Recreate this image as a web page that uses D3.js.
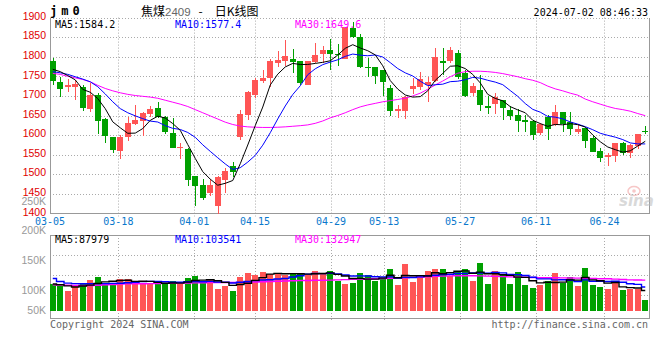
<!DOCTYPE html>
<html><head><meta charset="utf-8">
<script src="https://cdn.jsdelivr.net/npm/d3@7"></script>
<style>body{margin:0;background:#fff}svg{display:block}</style>
</head><body><svg id="c" width="660" height="360"></svg>
<script>
const dates = ["03-05","03-06","03-07","03-08","03-11","03-12","03-13","03-14","03-15","03-18","03-19","03-20","03-21","03-22","03-25","03-26","03-27","03-28","03-29",
"04-01","04-02","04-03","04-08","04-09","04-10","04-11","04-12","04-15","04-16","04-17","04-18","04-19","04-22","04-23","04-24","04-25","04-26","04-29","04-30",
"05-06","05-07","05-08","05-09","05-10","05-13","05-14","05-15","05-16","05-17","05-20","05-21","05-22","05-23","05-24","05-27","05-28","05-29","05-30","05-31",
"06-03","06-04","06-05","06-06","06-07","06-11","06-12","06-13","06-14","06-17","06-18","06-19","06-20","06-21","06-24","06-25","06-26","06-27","06-28",
"07-01","07-02"];
const opens = [1790,1736,1723,1724,1723,1666,1702,1641,1594,1560,1596,1629,1635,1653,1669,1646,1605,1568,1564,1495,1473,1452,1420,1485,1521,1596,1651,1702,1739,1745,1785,1788,1794,1788,1729,1786,1808,1817,1808,1794,1873,1850,1775,1775,1766,1719,1662,1662,1718,1724,1728,1739,1790,1788,1810,1758,1707,1715,1674,1679,1690,1664,1651,1638,1636,1606,1645,1626,1660,1634,1609,1617,1593,1560,1543,1546,1581,1553,1572,1611];
const highs = [1796,1749,1742,1741,1728,1732,1708,1644,1596,1600,1647,1676,1660,1674,1684,1650,1644,1581,1566,1495,1487,1487,1495,1515,1532,1664,1713,1747,1766,1794,1815,1842,1821,1790,1790,1834,1827,1845,1832,1877,1890,1858,1796,1775,1766,1728,1677,1700,1745,1762,1749,1822,1823,1826,1816,1766,1734,1753,1700,1707,1690,1674,1666,1651,1638,1630,1651,1677,1660,1660,1626,1618,1600,1566,1553,1581,1583,1576,1603,1623];
const lows = [1728,1698,1711,1690,1662,1660,1603,1581,1555,1540,1586,1625,1598,1647,1643,1604,1567,1539,1471,1420,1434,1445,1398,1451,1492,1587,1638,1694,1732,1724,1773,1776,1759,1728,1728,1783,1783,1765,1776,1794,1847,1771,1748,1730,1700,1649,1644,1640,1705,1715,1685,1736,1754,1783,1742,1698,1700,1661,1654,1654,1638,1638,1609,1609,1587,1600,1587,1623,1609,1600,1603,1566,1557,1532,1521,1532,1549,1541,1564,1603];
const closes = [1738,1718,1727,1730,1670,1702,1637,1598,1562,1594,1632,1639,1656,1667,1647,1609,1568,1570,1485,1470,1440,1472,1493,1509,1506,1654,1711,1741,1746,1788,1792,1803,1786,1732,1789,1805,1817,1806,1805,1875,1851,1775,1771,1752,1736,1662,1666,1696,1725,1742,1736,1800,1785,1816,1748,1700,1725,1677,1670,1696,1670,1650,1636,1633,1600,1628,1615,1660,1628,1615,1615,1585,1558,1542,1548,1581,1553,1575,1603,1608];
const ma5 = [1768,1762,1752,1741,1716.6,1709.4,1693.2,1667.4,1633.8,1618.6,1604.6,1605,1616.6,1637.6,1648.2,1643.6,1629.4,1612.2,1575.8,1540.4,1506.6,1487.4,1472,1476.8,1484,1526.8,1574.6,1624.2,1671.6,1728,1755.6,1774,1783,1780.2,1780.4,1783,1785.8,1789.8,1804.4,1821.6,1830.8,1822.4,1815.4,1804.8,1777,1739.2,1717.4,1702.4,1697,1698.2,1713,1739.8,1757.6,1775.8,1777,1769.8,1754.8,1733.2,1704,1693.6,1687.6,1672.6,1664.4,1657,1637.8,1629.4,1622.4,1627.2,1626.2,1629.2,1626.6,1620.6,1600.2,1583,1569.6,1562.8,1556.4,1559.8,1572,1584.2];
const ma10 = [1762,1759,1755,1749,1743,1736,1723.5,1705,1685,1667.6,1657,1649.1,1642,1635.7,1633.4,1624.1,1617.2,1614.4,1606.7,1594.3,1575.1,1558.4,1542.1,1526.3,1512.2,1516.7,1531,1548.1,1574.2,1606,1641.2,1674.3,1703.6,1725.9,1754.2,1769.3,1779.9,1786.4,1792.3,1801,1806.9,1804.1,1802.6,1804.6,1799.3,1785,1769.9,1758.9,1750.9,1737.6,1726.1,1728.6,1730,1736.4,1737.6,1741.4,1747.3,1745.4,1739.9,1735.3,1728.7,1713.7,1698.8,1680.5,1665.7,1658.5,1647.5,1645.8,1641.6,1633.5,1628,1621.5,1613.7,1604.6,1599.4,1594.7,1588.5,1580,1577.5,1577.4];
const ma30 = [1757.6,1755,1750,1746,1742,1736,1727,1719,1713,1708,1704,1701,1699,1697,1694,1689,1684,1679,1673,1665,1657,1649,1641,1633,1627,1623,1621,1620,1619.5,1619.5,1620,1621,1622.5,1624,1626,1630,1636,1644,1650,1657,1665,1672,1677,1681,1685,1688,1691,1694,1700,1707,1717,1728,1738,1749,1758,1762,1763,1763,1762,1760,1757,1753,1749,1744,1740,1734,1725,1718,1713,1707,1702,1692,1685,1679,1673,1668,1665,1661,1655,1649.6];
// volumes in thousands
const volumes = [114.4,108.7,85.8,108.7,120.1,133,145.9,118.7,121.6,137.3,137.3,121.6,121.6,118.7,117.3,117.3,128.7,117.3,141.6,150.2,125.8,137.3,94.4,107.3,85.8,145.9,163,155.9,167.3,160.2,163,155.9,158.7,163,153,171.6,161.6,171.6,130.1,117.3,120.1,163,154.4,130.1,140.1,180.2,111.5,201.6,124.4,144.4,171.6,180.2,180.2,150.2,171.6,180.2,128.7,205.9,115.8,171.6,157.3,115.8,167.3,111.5,98.7,111.5,128.7,163,120.1,145.9,107.3,184.5,111.5,103,94.4,120.1,90.1,94.4,94.4,47.2];
const volMa5 = [116,113,108,103,107.5,111.3,118.7,125.3,127.9,131.3,132.2,127.3,127.9,127.3,123.3,119.3,120.7,119.9,124.4,131,132.7,134.4,129.9,123,110.1,114.1,119.3,131.6,143.6,158.5,161.9,160.5,161,160.2,158.7,160.4,161.6,164.2,157.6,150.4,140.1,140.4,137,137,141.5,153.6,143.3,152.7,151.6,152.4,150.7,164.4,160.2,165.3,170.8,172.5,162.2,167.3,160.4,160.4,155.9,153.3,145.6,144.7,130.1,121,123.5,122.7,124.4,133.8,133,144.2,133.9,130.4,120.1,122.7,103.8,100.4,98.7,88];
const volMa10 = [140,127,120,118,117,117,118,118,119,119.4,121.7,123,126.6,127.6,127.3,125.7,124,123.9,125.9,127.2,126,127.6,124.9,123.7,120.6,123.4,126.9,130.7,133.3,134.3,138,139.9,146.3,151.9,158.6,161.2,161,162.6,158.9,154.6,150.3,151,150.6,147.3,146,146.9,141.8,144.8,144.3,147,152.1,153.9,156.4,158.4,161.6,161.6,163.3,163.7,162.9,165.6,164.2,157.7,156.4,152.6,145.3,138.4,138.4,134.1,134.6,132,127,133.9,128.3,127.4,127,127.9,124,117.1,114.6,103.5];
const volMa30 = [113,112,111,110,109.5,110,111,113,114,115.5,116.5,117,117.5,118,118.5,119,119.5,120,120.5,121,121.5,122,122,122.5,122.5,123,124,125,126,127,128,129,130,131,131.5,132,132.5,133,134,135,136,137,138,139,140,141,142,143,144.5,146,147.5,149,150,151,151.5,151.5,151.5,151,150,149,148,147,146,145,144,143,143,143,142.5,142,141.5,141,140,139,138.5,137,135.5,134,133.5,132.9];
const priceTicks = [1400,1450,1500,1550,1600,1650,1700,1750,1800,1850,1900];
const volTicks = [50,100,150,200,250];
const dateTicks = ["03-05","03-18","04-01","04-15","04-29","05-13","05-27","06-11","06-24"];

const svg = d3.select("#c");
const MONO = "'DejaVu Sans Mono', monospace";
const SANS = "'Liberation Sans', Arial, sans-serif";
const CJK = "'Noto Sans CJK SC', sans-serif";
const RED = "#ff5555", GREEN = "#00a000";

const x = d3.scaleBand().domain(dates).range([49, 649]).paddingInner(0.25).paddingOuter(0.125);
const xt = d3.scalePoint().domain(dates).range([50, 650]);
const y = d3.scaleLinear().domain([1400, 1900]).range([213.4, 17.6]);
const yv = d3.scaleLinear().domain([0, 327]).range([311, 235]);
const yvLabel = d3.scaleLinear().domain([50, 100, 250]).range([313, 293, 204]);
const bw = x.bandwidth();
const cx = d => x(d) + bw / 2;
const L = 50, R = 650, mainTop = y(1900), mainBot = y(1400), vTop = 235, vBot = 318;

// grid
const g = svg.append("g").attr("stroke", "#aaa").attr("stroke-dasharray", "1,2");
priceTicks.slice(1, -1).forEach(v => {
  const yy = Math.round(y(v)) + 0.5;
  g.append("line").attr("x1", L).attr("x2", R).attr("y1", yy).attr("y2", yy);
});
g.append("line").attr("x1", L).attr("x2", R).attr("y1", Math.round(mainTop) + 0.5).attr("y2", Math.round(mainTop) + 0.5);
[255, 275, 295].forEach(yy => g.append("line").attr("x1", L).attr("x2", R).attr("y1", yy + 0.5).attr("y2", yy + 0.5));
dateTicks.slice(1).forEach(d => {
  const xx = Math.round(xt(d)) + 0.5;
  g.append("line").attr("x1", xx).attr("x2", xx).attr("y1", mainTop).attr("y2", mainBot + 3);
  g.append("line").attr("x1", xx).attr("x2", xx).attr("y1", vTop).attr("y2", vBot + 3);
});

// frames
const f = svg.append("g").attr("stroke", "#999").attr("fill", "none").attr("shape-rendering", "crispEdges");
f.append("path").attr("d", `M${L + 0.5},${mainTop}V${Math.round(mainBot) + 0.5}H${R - 0.5}V${mainTop}`);
f.append("rect").attr("x", L + 0.5).attr("y", vTop + 0.5).attr("width", R - L - 1).attr("height", vBot - vTop);

// candles
const idx = d3.range(dates.length);
const cg = svg.append("g");
idx.forEach(i => {
  const up = closes[i] >= opens[i];
  const col = up ? RED : GREEN;
  const xc = Math.round(cx(dates[i])) + 0.5;
  cg.append("line").attr("x1", xc).attr("x2", xc).attr("y1", y(highs[i])).attr("y2", y(lows[i]))
    .attr("stroke", col).attr("stroke-width", 1).attr("shape-rendering", "crispEdges");
  const top = y(Math.max(opens[i], closes[i])), bot = y(Math.min(opens[i], closes[i]));
  cg.append("rect").attr("x", x(dates[i])).attr("width", bw)
    .attr("y", top).attr("height", Math.max(1.2, bot - top)).attr("fill", col).attr("shape-rendering", "crispEdges");
});

// volume bars
const vg = svg.append("g");
idx.forEach(i => {
  const up = closes[i] >= opens[i];
  vg.append("rect").attr("x", x(dates[i])).attr("width", bw)
    .attr("y", yv(volumes[i])).attr("height", yv(0) - yv(volumes[i]))
    .attr("fill", up ? RED : GREEN).attr("shape-rendering", "crispEdges");
});

// MA lines
const mline = arr => d3.line().x((v, i) => cx(dates[i])).y(v => y(v))(arr);
[[ma30, "#ff00ff"], [ma10, "#0000ff"], [ma5, "#000"]].forEach(([arr, c]) =>
  svg.append("path").attr("d", mline(arr)).attr("fill", "none").attr("stroke", c).attr("stroke-width", 1));
const vline = arr => d3.line().curve(d3.curveStep).x((v, i) => cx(dates[i])).y(v => yv(v))(arr);
[[volMa30, "#ff00ff"], [volMa10, "#0000ff"], [volMa5, "#000"]].forEach(([arr, c]) =>
  svg.append("path").attr("d", vline(arr)).attr("fill", "none").attr("stroke", c).attr("stroke-width", 1.4));

// axis labels
const t = svg.append("g");
priceTicks.forEach(v => t.append("text").attr("x", 46).attr("y", y(v) + 2.2).attr("text-anchor", "end")
  .attr("font-family", SANS).attr("font-size", 10.5).attr("fill", "#e00000").text(v));
volTicks.forEach(v => t.append("text").attr("x", 46).attr("y", yvLabel(v) + 0.5).attr("text-anchor", "end")
  .attr("font-family", SANS).attr("font-size", 10.5).attr("fill", "#999").text(v + "K"));
dateTicks.forEach(d => t.append("text").attr("x", xt(d)).attr("y", 224.8).attr("text-anchor", "middle")
  .attr("font-family", MONO).attr("font-size", 10).attr("fill", "#0a78cc").text(d));

// legends
const leg = (xx, yy, txt, c) => t.append("text").attr("x", xx).attr("y", yy).attr("font-family", MONO)
  .attr("font-size", 10).attr("fill", c).text(txt);
leg(55, 27.5, "MA5:" + ma5[79].toFixed(1), "#000");
leg(175, 27.5, "MA10:" + ma10[79].toFixed(1), "#0000ff");
leg(295, 27.5, "MA30:" + ma30[79].toFixed(1), "#ff00ff");
leg(55, 242.5, "MA5:87979", "#000");
leg(175, 242.5, "MA10:103541", "#0000ff");
leg(295, 242.5, "MA30:132947", "#ff00ff");

// header
t.append("text").attr("x", 50).attr("y", 15).attr("font-family", MONO).attr("font-weight", "bold")
  .attr("font-size", 12).attr("letter-spacing", 4).attr("fill", "#000").text("jm0");
const title = t.append("text").attr("x", 141).attr("y", 16).attr("font-family", CJK)
  .attr("font-size", 12).attr("fill", "#000");
title.append("tspan").text("焦煤");
title.append("tspan").attr("fill", "#666").attr("font-family", SANS).attr("font-size", 11.5).text("2409");
title.append("tspan").attr("dx", 8).text("-");
title.append("tspan").attr("dx", 12).text("日K线图");
t.append("text").attr("x", 648).attr("y", 15.5).attr("text-anchor", "end").attr("font-family", MONO)
  .attr("font-size", 10).attr("fill", "#000").text("2024-07-02 08:46:33");

// footer
t.append("text").attr("x", 50).attr("y", 327.5).attr("font-family", MONO).attr("font-size", 10)
  .attr("fill", "#666").text("Copyright 2024 SINA.COM");
t.append("text").attr("x", 648).attr("y", 327.5).attr("text-anchor", "end").attr("font-family", MONO)
  .attr("font-size", 10).attr("fill", "#666").text("http://finance.sina.com.cn");

// watermark
const wm = svg.append("g").attr("opacity", 0.55);
wm.append("ellipse").attr("cx", 634).attr("cy", 191).attr("rx", 6).attr("ry", 4.5)
  .attr("fill", "none").attr("stroke", "#f29a9a").attr("stroke-width", 1.5);
wm.append("circle").attr("cx", 634).attr("cy", 191).attr("r", 1.8).attr("fill", "#f29a9a");
wm.append("text").attr("x", 619).attr("y", 206).attr("font-family", "'DejaVu Sans', sans-serif")
  .attr("font-style", "italic").attr("font-weight", "bold").attr("font-size", 15).attr("fill", "#bbb").text("sina");
</script></body></html>
